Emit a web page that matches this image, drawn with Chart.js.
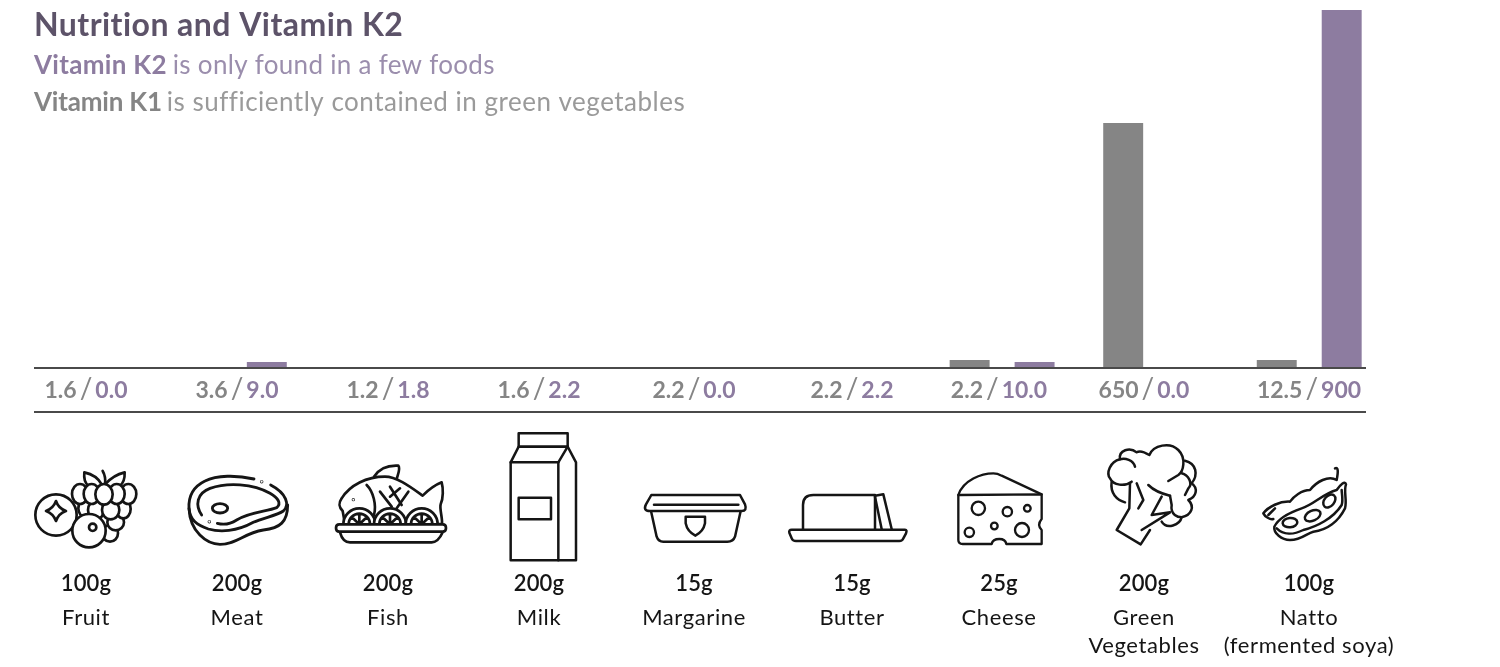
<!DOCTYPE html>
<html>
<head>
<meta charset="utf-8">
<title>Nutrition and Vitamin K2</title>
<script src="https://cdn.jsdelivr.net/npm/chart.js@4"></script>
<style>
html, body { margin: 0; padding: 0; background: #fff; }
canvas { display: block; }
</style>
</head>
<body>
<canvas id="chart" width="1500" height="667"></canvas>
<script>
"use strict"
var categories = ['Fruit', 'Meat', 'Fish', 'Milk', 'Margarine', 'Butter', 'Cheese', ['Green', 'Vegetables'], ['Natto', '(fermented soya)']];
var portions = ['100g', '200g', '200g', '200g', '15g', '15g', '25g', '200g', '100g'];
// printed figures under the axis
var k1Printed = ['1.6', '3.6', '1.2', '1.6', '2.2', '2.2', '2.2', '650', '12.5'];
var k2Printed = ['0.0', '9.0', '1.8', '2.2', '0.0', '2.2', '10.0', '0.0', '900'];
// bar heights as drawn, the original is not to scale with its printed figures
var k1Bars = [0, 0, 0, 0, 0, 0, 20, 616, 20];
var k2Bars = [0, 15, 0, 0, 0, 0, 15, 0, 900];

var labelCentres = [86, 237, 388, 539, 694, 852, 999, 1144, 1309];
var iconNames = ['fruit', 'meat', 'fish', 'milk', 'margarine', 'butter', 'cheese', 'broccoli', 'natto'];

var K1 = '#858585', K2 = '#8d7ca0', RULE = '#4a4a4a', INK = '#151515';
var FONT = 'Lato, sans-serif';

function circle(x, y, r) {
    return 'M' + (x + r) + ' ' + y + 'A' + r + ' ' + r + ' 0 1 1 ' + (x - r) + ' ' + y + 'A' + r + ' ' + r + ' 0 1 1 ' + (x + r) + ' ' + y + 'Z';
}
function oval(x, y, rx, ry, rot) {
    var r = rot || 0;
    var dx = rx * Math.cos(r * Math.PI / 180), dy = rx * Math.sin(r * Math.PI / 180);
    var arc = 'A' + rx + ' ' + ry + ' ' + r + ' 1 1 ';
    return 'M' + (x + dx) + ' ' + (y + dy) + arc + (x - dx) + ' ' + (y - dy) + arc + (x + dx) + ' ' + (y + dy) + 'Z';
}

// icon outlines, traced in 3x zoomed coordinates, painted in order with a white fill
var icons = {
    fruit: { ox: 20, oy: 425, lw: 8, parts: [
        circle(108, 270, 62),
        'M245 178Q230 150 193 142Q190 170 205 182', 'M255 178Q280 150 314 142Q315 170 300 182', 'M248 138Q258 155 255 178',
        oval(270, 325, 24, 25), oval(287, 292, 25, 24), oval(310, 252, 22, 28), oval(195, 250, 20, 26), oval(228, 255, 24, 28), oval(272, 255, 26, 28),
        oval(325, 207, 24, 30), oval(180, 207, 24, 30), oval(290, 207, 24, 30), oval(215, 207, 24, 30), oval(252, 208, 26, 31),
        circle(207, 317, 50), circle(218, 307, 11),
        'M108 228Q115 250 138 258Q115 266 108 288Q100 266 78 258Q100 250 108 228Z'
    ] },
    meat: { ox: 20, oy: 425, lw: 8.5, parts: [
        'M507 250C510 320 560 358 600 358C650 358 670 325 730 315C780 310 803 290 803 240',
        'M702 162C650 150 590 150 555 168C520 185 505 215 507 250C510 285 530 300 565 312C600 322 650 320 700 292C730 278 770 272 790 258C810 240 800 205 752 180',
        'M545 270C525 240 530 205 570 190C620 172 700 175 750 205C775 220 785 235 770 248C740 260 690 260 650 285C630 298 610 300 592 295',
        oval(600, 250, 23, 14), circle(725, 170, 1), circle(568, 290, 1)
    ] },
    fish: { ox: 20, oy: 425, lw: 8, parts: [
        'M1062 155C1075 135 1100 120 1135 122C1142 130 1135 145 1130 162',
        'M968 258C955 245 955 235 965 220C990 180 1040 155 1095 155C1130 155 1170 185 1208 212C1225 195 1245 180 1265 172C1270 190 1270 220 1262 238C1258 250 1268 280 1266 297L975 297Z',
        'M1040 180C1060 200 1070 240 1062 270', 'M1080 200L1115 245', 'M1110 185L1145 240', 'M1165 200L1130 250', 'M1140 190L1110 215', circle(1000, 224, 1),
        'M970 298A48 48 0 0 1 1066 298Z', 'M986 298A32 32 0 0 1 1050 298M1018 266L1018 298M995 276L1018 298M1041 276L1018 298',
        'M1062 298A48 48 0 0 1 1158 298Z', 'M1078 298A32 32 0 0 1 1142 298M1110 266L1110 298M1087 276L1110 298M1133 276L1110 298',
        'M1157 298A48 48 0 0 1 1253 298Z', 'M1173 298A32 32 0 0 1 1237 298M1205 266L1205 298M1182 276L1205 298M1228 276L1205 298',
        'M958 298L1268 298Q1278 298 1278 309Q1278 320 1268 320L958 320Q948 320 948 309Q948 298 958 298Z',
        'M960 322C965 340 975 352 990 352L1235 352C1250 352 1260 340 1268 322'
    ] },
    milk: { ox: 490, oy: 425, lw: 7.5, parts: [
        'M86 25L233 25L233 65L86 65Z',
        'M233 65L258 112L258 406L62 406L62 112L86 65Z', 'M62 112L205 112L233 65', 'M205 112L205 406', 'M86 218L183 218L183 283L86 283Z'
    ] },
    margarine: { ox: 490, oy: 425, lw: 7.5, parts: [
        'M483 258L500 335Q505 350 520 350L712 350Q730 350 735 335L752 258',
        'M484 210L750 210L765 238Q772 258 755 258L480 258Q458 258 468 238Z', 'M492 239L745 239',
        'M587 275L645 275L645 295Q640 320 616 332Q592 320 587 295Z'
    ] },
    butter: { ox: 490, oy: 425, lw: 7.5, parts: [
        'M939 312L939 240Q939 210 970 210L1155 210L1155 312', 'M1155 215L1175 312', 'M1155 212L1180 208L1205 312',
        'M905 314L1245 314Q1252 314 1248 325L1240 340Q1237 348 1228 348L918 348Q908 348 905 340L898 323Q896 314 905 314Z'
    ] },
    cheese: { ox: 940, oy: 425, lw: 7, parts: [
        'M55 210C70 165 125 145 160 145Q172 145 185 152L305 208',
        'M55 210L305 208L305 282Q290 300 305 315L305 357L199 357Q196 342 178 342Q158 342 155 357L68 357Q55 357 55 345Z',
        circle(115, 250, 20), circle(202, 260, 14), circle(262, 250, 10), circle(88, 322, 14), circle(163, 303, 10), circle(246, 315, 21)
    ] },
    broccoli: { ox: 940, oy: 425, lw: 7.5, parts: [
        'M515 170C510 205 530 225 555 232', 'M735 107C770 115 775 150 755 175C775 190 770 215 745 225C765 245 755 270 725 277C720 300 680 315 665 290',
        'M585 125C580 105 555 98 540 103C510 110 498 145 510 160C520 182 555 185 575 170',
        'M540 103C535 75 570 65 590 82C600 75 620 85 628 90C640 60 690 50 715 75C740 100 730 140 715 150L685 168',
        'M725 145C745 150 760 175 745 190L735 210',
        'M570 175L568 250L530 315L602 358L630 315', 'M590 175L610 225L595 250', 'M625 180C640 195 660 205 690 212',
        'M665 215L635 270L690 262L605 315', 'M690 212L695 240C690 270 715 277 725 277'
    ] },
    natto: { ox: 940, oy: 425, lw: 7.5, parts: [
        'M1185 130C1195 125 1195 140 1190 165C1165 150 1130 170 1110 195C1085 195 1060 215 1050 230C1020 228 985 245 970 265C975 275 990 285 1000 282',
        'M1003 305C1015 280 1050 262 1085 250C1120 240 1150 205 1190 195C1200 180 1215 165 1218 178C1210 200 1222 225 1215 250C1195 290 1160 315 1120 320C1100 325 1085 345 1050 345C1025 345 1000 325 1003 305Z',
        'M1010 310C1030 330 1060 330 1090 315C1130 305 1180 280 1205 240C1210 225 1205 205 1205 195',
        oval(1050, 293, 22, 14, -5), oval(1118, 272, 25, 15, -25), oval(1168, 228, 22, 15, -50), 'M985 270L1005 250'
    ] }
};

function drawIcon(ctx, icon) {
    ctx.save();
    ctx.translate(icon.ox, icon.oy);
    ctx.scale(1 / 3, 1 / 3);
    ctx.lineWidth = icon.lw;
    ctx.lineCap = 'round';
    ctx.lineJoin = 'round';
    ctx.strokeStyle = INK;
    ctx.fillStyle = '#fff';
    icon.parts.forEach(function(d) {
        var p = new Path2D(d);
        if (d.charAt(d.length - 1) == 'Z') ctx.fill(p);
        ctx.stroke(p);
    });
    ctx.restore();
}

// writes a run of differently coloured pieces starting at x
function writeRun(ctx, x, y, pieces) {
    pieces.forEach(function(p) {
        ctx.font = p.font;
        ctx.letterSpacing = p.spacing || '0px';
        ctx.fillStyle = p.color;
        ctx.fillText(p.text, x, y);
        x += ctx.measureText(p.text).width + (p.gap || 0);
    });
    ctx.letterSpacing = '0px';
    return x;
}

var overlay = {
    id: 'overlay',
    afterDatasetsDraw: function(chart) {
        var ctx = chart.ctx;
        ctx.save();
        ctx.textBaseline = 'alphabetic';
        ctx.textAlign = 'left';

        // axis and lower rule
        ctx.fillStyle = RULE;
        ctx.fillRect(34, 367, 1332, 2);
        ctx.fillRect(34, 411, 1332, 2);

        // headline
        writeRun(ctx, 34, 36, [{ text: 'Nutrition and Vitamin K2', font: '700 32px ' + FONT, color: '#5d5369', spacing: '0.45px' }]);
        writeRun(ctx, 34, 74, [
            { text: 'Vitamin K2', font: '700 26px ' + FONT, color: K2, spacing: '0.3px', gap: 6 },
            { text: 'is only found in a few foods', font: '400 26px ' + FONT, color: '#9b8ead', spacing: '0.3px' }
        ]);
        writeRun(ctx, 34, 111, [
            { text: 'Vitamin K1', font: '700 26px ' + FONT, color: K1, spacing: '-0.2px', gap: 5 },
            { text: 'is sufficiently contained in green vegetables', font: '400 26px ' + FONT, color: '#9a9a9a', spacing: '0.5px' }
        ]);

        // printed figures, icons and food names
        categories.forEach(function(name, i) {
            var cx = labelCentres[i];
            var bold = '700 23px ' + FONT;
            var pieces = [
                { text: k1Printed[i], font: bold, color: K1, gap: 3 },
                { text: '/', font: '400 28px ' + FONT, color: K1, gap: 3 },
                { text: k2Printed[i], font: bold, color: K2 }
            ];
            var w = 0;
            pieces.forEach(function(p) {
                ctx.font = p.font;
                w += ctx.measureText(p.text).width + (p.gap || 0);
            });
            writeRun(ctx, cx - w / 2, 398, pieces);

            drawIcon(ctx, icons[iconNames[i]]);

            ctx.textAlign = 'center';
            ctx.fillStyle = INK;
            ctx.font = '600 22px ' + FONT;
            ctx.letterSpacing = '0.2px';
            ctx.fillText(portions[i], cx, 591);
            ctx.font = '400 22px ' + FONT;
            ctx.letterSpacing = '0.6px';
            [].concat(name).forEach(function(line, j) {
                ctx.fillText(line, cx, 625 + j * 28);
            });
            ctx.letterSpacing = '0px';
            ctx.textAlign = 'left';
        });
        ctx.restore();
    }
};

new Chart(document.getElementById('chart'), {
    type: 'bar',
    data: {
        labels: categories,
        datasets: [{
            label: 'Vitamin K1',
            data: k1Bars,
            backgroundColor: K1
        }, {
            label: 'Vitamin K2',
            data: k2Bars,
            backgroundColor: K2
        }]
    },
    options: {
        responsive: false,
        animation: false,
        devicePixelRatio: 1,
        categoryPercentage: 0.846,
        barPercentage: 0.615,
        layout: {
            padding: { left: 4, right: 114, top: 10, bottom: 299 }
        },
        plugins: {
            legend: { display: false },
            title: { display: false },
            tooltip: { enabled: false }
        },
        scales: {
            x: { display: false },
            y: { display: false, min: 0, max: 900 }
        }
    },
    plugins: [overlay]
});
</script>
</body>
</html>
